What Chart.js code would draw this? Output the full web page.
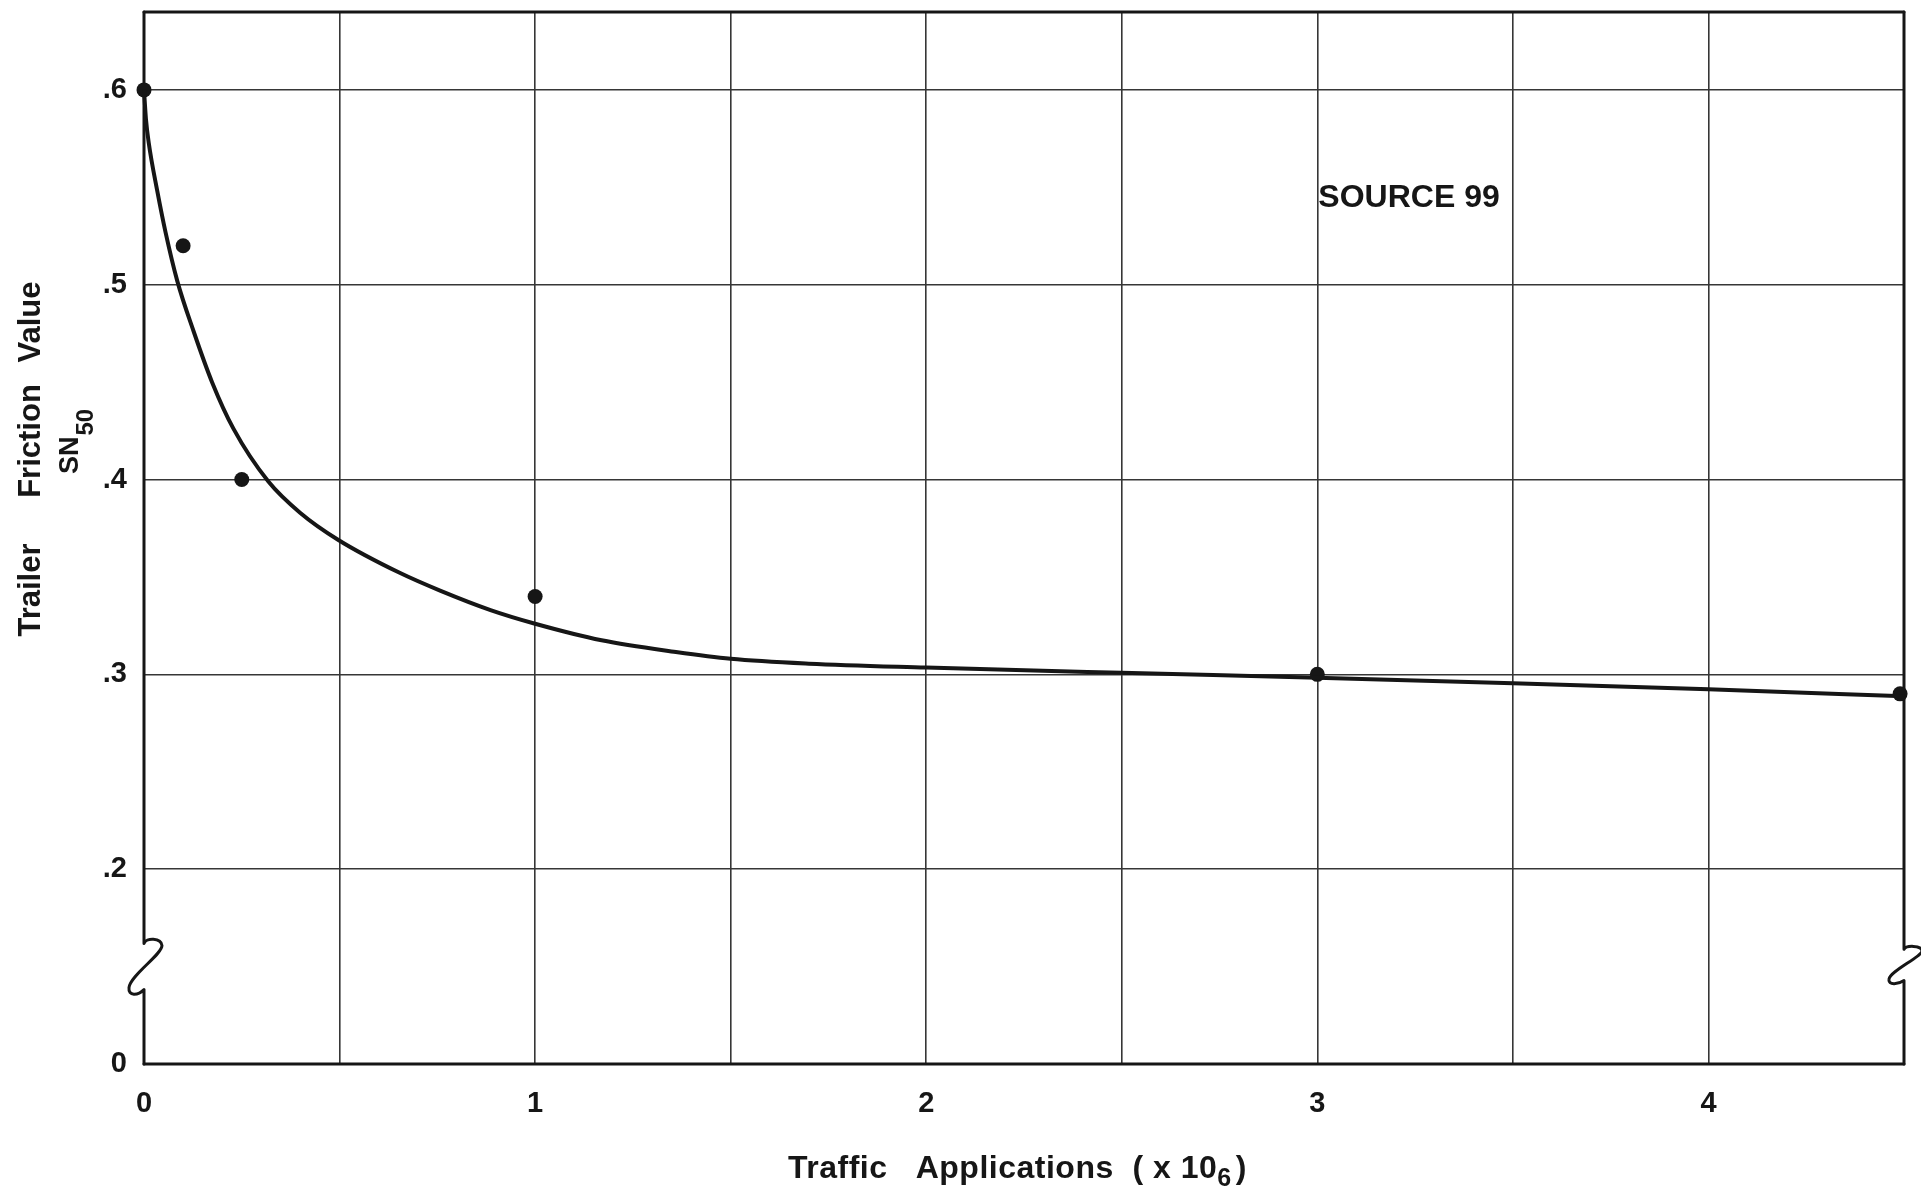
<!DOCTYPE html>
<html>
<head>
<meta charset="utf-8">
<script src="https://cdn.jsdelivr.net/npm/chart.js@4/dist/chart.umd.min.js"></script>
<style>
  html, body { margin: 0; padding: 0; background: #fff; }
  canvas { display: block; }
</style>
</head>
<body>
<canvas id="c" width="1921" height="1191"></canvas>
<script>
// Measured trailer skid numbers (SN50) against cumulative traffic, millions of applications
const trafficApps = [0, 0.1, 0.25, 1.0, 3.0, 4.49];
const frictionSN50 = [0.60, 0.52, 0.40, 0.34, 0.30, 0.29];

// Hand-drawn trend curve through the measurements
const curveTraffic = [0, 0.005, 0.012, 0.034, 0.055, 0.085, 0.127, 0.174, 0.229, 0.318, 0.399, 0.497, 0.655, 0.757, 0.886, 1.0, 1.17, 1.36, 1.5, 1.7, 2.0, 2.5, 3.0, 3.5, 4.0, 4.5];
const curveSN50 = [0.600, 0.585, 0.573, 0.548, 0.527, 0.502, 0.476, 0.450, 0.426, 0.399, 0.383, 0.369, 0.352, 0.343, 0.333, 0.326, 0.3175, 0.3115, 0.308, 0.3055, 0.3035, 0.3008, 0.2983, 0.2955, 0.2923, 0.2888];

// X axis: grid every half million, labels on whole millions
const xLabelValues = [0, 1, 2, 3, 4];
const xTickLabels = ['0', '1', '2', '3', '4'];

// Y axis: the stretch from 0 to .2 is folded into a single cell by the axis break,
// so the "0" label sits one step below ".2"
const yTickPositions = [0.1, 0.2, 0.3, 0.4, 0.5, 0.6];
const yTickLabels = ['0', '.2', '.3', '.4', '.5', '.6'];

const yTitleWords = ['Trailer', 'Friction', 'Value'];
const sourceNote = 'SOURCE 99';

const INK = '#161616';
const GRID = '#363636';
const FONT = "'Liberation Sans', Arial, sans-serif";

// One side of the frame, with a zig-zag break symbol between 0 and .2
function brokenSide(ctx, x, top, bottom, yc, sy) {
  ctx.beginPath();
  ctx.moveTo(x, top);
  ctx.lineTo(x, yc - 24 * sy);
  ctx.bezierCurveTo(x + 2, yc - 30 * sy, x + 17, yc - 30 * sy, x + 18, yc - 22 * sy);
  ctx.bezierCurveTo(x + 18, yc - 13 * sy, x - 14, yc + 8 * sy, x - 15, yc + 20 * sy);
  ctx.bezierCurveTo(x - 16, yc + 29 * sy, x - 6, yc + 28 * sy, x, yc + 22 * sy);
  ctx.lineTo(x, bottom);
  ctx.stroke();
}

const framePlugin = {
  id: 'frame',
  beforeDatasetsDraw(chart) {
    const { ctx, chartArea: a, scales: { y } } = chart;
    const yc = y.getPixelForValue(0.15);
    ctx.save();
    ctx.strokeStyle = INK;
    ctx.lineWidth = 3;
    ctx.lineCap = 'round';
    ctx.lineJoin = 'round';
    ctx.beginPath();
    ctx.moveTo(a.left, a.top); ctx.lineTo(a.right, a.top);
    ctx.moveTo(a.left, a.bottom); ctx.lineTo(a.right, a.bottom);
    ctx.stroke();
    brokenSide(ctx, a.left, a.top, a.bottom, yc + 1, 1);
    brokenSide(ctx, a.right, a.top, a.bottom, yc - 1, 0.68);
    ctx.restore();
  }
};

const textPlugin = {
  id: 'texts',
  afterDraw(chart) {
    const { ctx, scales: { x, y } } = chart;
    ctx.save();
    ctx.fillStyle = INK;

    // Y axis title, read bottom to top
    ctx.save();
    ctx.translate(40, 0);
    ctx.rotate(-Math.PI / 2);
    ctx.font = 'bold 31px ' + FONT;
    ctx.textAlign = 'center';
    ctx.textBaseline = 'alphabetic';
    const wordCentres = [590, 441, 322];
    yTitleWords.forEach((w, i) => ctx.fillText(w, -wordCentres[i], 0));
    ctx.restore();

    // SN with subscript 50
    ctx.save();
    ctx.translate(78, 442);
    ctx.rotate(-Math.PI / 2);
    ctx.textBaseline = 'alphabetic';
    ctx.textAlign = 'left';
    ctx.font = 'bold 27px ' + FONT;
    const wSN = ctx.measureText('SN').width;
    ctx.font = 'bold 24px ' + FONT;
    const w50 = ctx.measureText('50').width;
    const start = -(wSN + w50) / 2;
    ctx.font = 'bold 27px ' + FONT;
    ctx.fillText('SN', start, 0);
    ctx.font = 'bold 24px ' + FONT;
    ctx.fillText('50', start + wSN + 1, 15);
    ctx.restore();

    // X axis title with subscript
    ctx.textAlign = 'left';
    ctx.textBaseline = 'alphabetic';
    ctx.letterSpacing = '0.5px';
    let cx = 788;
    const base = 1178;
    ctx.font = 'bold 32px ' + FONT;
    const main = 'Traffic   Applications  ( x 10';
    ctx.fillText(main, cx, base);
    cx += ctx.measureText(main).width;
    ctx.font = 'bold 25px ' + FONT;
    ctx.fillText('6', cx, base + 8);
    cx += ctx.measureText('6').width + 4;
    ctx.font = 'bold 32px ' + FONT;
    ctx.fillText(')', cx, base);
    ctx.letterSpacing = '0px';

    // Source note inside the plot
    ctx.font = 'bold 32px ' + FONT;
    ctx.fillText(sourceNote, x.getPixelForValue(3.0) + 1, y.getPixelForValue(0.54));
    ctx.restore();
  }
};

new Chart(document.getElementById('c'), {
  type: 'scatter',
  data: {
    datasets: [
      {
        label: 'trend',
        data: curveTraffic.map((v, i) => ({ x: v, y: curveSN50[i] })),
        showLine: true,
        borderColor: INK,
        borderWidth: 4,
        pointRadius: 0,
        cubicInterpolationMode: 'monotone',
        clip: false
      },
      {
        label: 'measured',
        data: trafficApps.map((v, i) => ({ x: v, y: frictionSN50[i] })),
        showLine: false,
        pointRadius: 7.5,
        pointBackgroundColor: INK,
        pointBorderColor: INK,
        pointBorderWidth: 0,
        clip: false
      }
    ]
  },
  options: {
    responsive: false,
    animation: false,
    layout: { padding: { top: 12, right: 17, left: 0, bottom: 0 } },
    plugins: { legend: { display: false }, tooltip: { enabled: false } },
    scales: {
      x: {
        type: 'linear',
        min: 0,
        max: 4.5,
        afterFit(s) { s.height = 127; s.paddingLeft = 0; s.paddingRight = 0; },
        border: { display: false },
        grid: {
          drawTicks: false,
          lineWidth: 1.6,
          color: (c) => (c.tick && (c.tick.value === 0 || c.tick.value === 4.5)) ? 'rgba(0,0,0,0)' : GRID
        },
        ticks: {
          stepSize: 0.5,
          autoSkip: false,
          maxRotation: 0,
          padding: 23,
          color: INK,
          font: { family: FONT, size: 29, weight: 'bold' },
          callback: (v) => {
            const i = xLabelValues.findIndex(t => Math.abs(t - v) < 1e-9);
            return i >= 0 ? xTickLabels[i] : '';
          }
        }
      },
      y: {
        type: 'linear',
        min: 0.1,
        max: 0.64,
        afterFit(s) { s.width = 144; s.paddingTop = 0; s.paddingBottom = 0; },
        afterBuildTicks(s) { s.ticks = yTickPositions.map(v => ({ value: v })); },
        border: { display: false },
        grid: {
          drawTicks: false,
          lineWidth: 1.6,
          color: (c) => (c.tick && Math.abs(c.tick.value - 0.1) < 1e-9) ? 'rgba(0,0,0,0)' : GRID
        },
        ticks: {
          autoSkip: false,
          padding: 17,
          color: INK,
          font: { family: FONT, size: 29, weight: 'bold' },
          callback: (v) => {
            const i = yTickPositions.findIndex(t => Math.abs(t - v) < 1e-9);
            return i >= 0 ? yTickLabels[i] : '';
          }
        }
      }
    }
  },
  plugins: [framePlugin, textPlugin]
});
</script>
</body>
</html>
